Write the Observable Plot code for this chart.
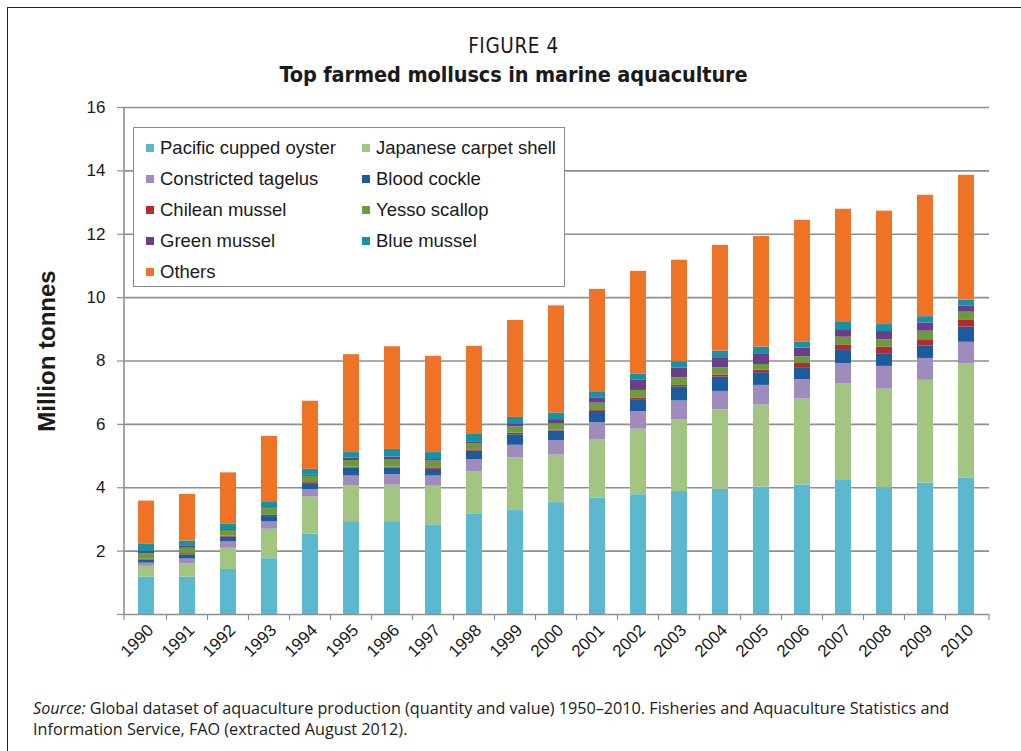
<!DOCTYPE html>
<html>
<head>
<meta charset="utf-8">
<script src="https://cdn.jsdelivr.net/npm/d3@7"></script>
<script src="https://cdn.jsdelivr.net/npm/@observablehq/plot@0.6"></script>
<style>
  html, body { margin: 0; padding: 0; background: #fff; }
  #wrap { position: relative; width: 1021px; height: 751px; overflow: hidden; font-family: "Liberation Sans", Arial, sans-serif; color: #1a1a1a; }
  #frame { position: absolute; left: 7px; top: 7px; width: 1100px; height: 900px; border-left: 1.5px solid #222; border-top: 1.5px solid #222; }
  #fig { position: absolute; top: 34px; left: 0; width: 1027px; text-align: center; font-family: "DejaVu Sans Condensed", "DejaVu Sans", sans-serif; font-size: 20.5px; letter-spacing: 0.6px; }
  #title { position: absolute; top: 62px; left: 0; width: 1027px; text-align: center; font-family: "DejaVu Sans Condensed", "DejaVu Sans", sans-serif; font-weight: bold; font-size: 21.5px; letter-spacing: -0.1px; }
  #chart { position: absolute; left: 0; top: 0; }
  #ylabel { position: absolute; left: 47px; top: 351px; transform: translate(-50%, -50%) rotate(-90deg); font-weight: bold; font-size: 24px; white-space: nowrap; }
  #legend { position: absolute; left: 133px; top: 127px; width: 432px; height: 160px; box-sizing: border-box; border: 1.5px solid #8a8a8a; background: #fff; }
  .item { position: absolute; font-size: 18.5px; white-space: nowrap; line-height: 20px; }
  .sw { position: absolute; width: 8px; height: 8px; left: 0; top: 6px; }
  .lab { position: absolute; left: 14px; top: 0; }
  #caption { position: absolute; left: 33px; top: 698px; width: 985px; font-family: "Open Sans", "Noto Sans", sans-serif; font-size: 16.2px; line-height: 21px; }
</style>
</head>
<body>
<div id="wrap">
  <div id="frame"></div>
  <div id="fig">FIGURE 4</div>
  <div id="title">Top farmed molluscs in marine aquaculture</div>
  <div id="chart"></div>
  <div id="ylabel">Million tonnes</div>
  <div id="legend"></div>
  <div id="caption"><i>Source:</i> Global dataset of aquaculture production (quantity and value) 1950–2010. Fisheries and Aquaculture Statistics and<br>Information Service, FAO (extracted August 2012).</div>
</div>
<script>
const years = ["1990","1991","1992","1993","1994","1995","1996","1997","1998","1999","2000","2001","2002","2003","2004","2005","2006","2007","2008","2009","2010"];

const seriesNames = ["Pacific cupped oyster","Japanese carpet shell","Constricted tagelus","Blood cockle","Chilean mussel","Yesso scallop","Green mussel","Blue mussel","Others"];
const seriesColors = ["#5bb8cf","#a2c581","#a08bbd","#1c5c9c","#b42a30","#6a9c3c","#6a3f8a","#1493a7","#ee7326"];

// million tonnes, per year 1990..2010
const pacificCuppedOyster = [1.18,1.18,1.42,1.76,2.54,2.93,2.93,2.83,3.16,3.28,3.53,3.67,3.78,3.88,3.95,4.02,4.09,4.23,4.00,4.15,4.31];
const japaneseCarpetShell = [0.34,0.42,0.67,0.93,1.17,1.14,1.15,1.22,1.35,1.66,1.50,1.85,2.07,2.27,2.51,2.59,2.71,3.05,3.11,3.24,3.60];
const constrictedTagelus  = [0.10,0.15,0.20,0.23,0.23,0.30,0.33,0.32,0.37,0.40,0.46,0.53,0.55,0.59,0.58,0.62,0.61,0.64,0.72,0.69,0.68];
const bloodCockle         = [0.10,0.13,0.15,0.17,0.19,0.25,0.21,0.21,0.27,0.33,0.30,0.36,0.38,0.44,0.45,0.40,0.38,0.44,0.40,0.40,0.48];
const chileanMussel       = [0.03,0.04,0.03,0.04,0.03,0.03,0.03,0.03,0.03,0.05,0.03,0.03,0.04,0.05,0.07,0.08,0.13,0.15,0.21,0.19,0.21];
const yessoScallop        = [0.17,0.17,0.18,0.21,0.20,0.21,0.24,0.23,0.20,0.20,0.19,0.23,0.25,0.24,0.22,0.18,0.21,0.24,0.23,0.27,0.26];
const greenMussel         = [0.07,0.06,0.03,0.03,0.03,0.08,0.08,0.05,0.07,0.10,0.14,0.17,0.32,0.31,0.30,0.34,0.28,0.24,0.26,0.26,0.20];
const blueMussel          = [0.24,0.17,0.18,0.19,0.19,0.17,0.24,0.22,0.23,0.20,0.21,0.19,0.19,0.20,0.23,0.21,0.18,0.25,0.22,0.20,0.18];
const others              = [1.35,1.47,1.61,2.06,2.15,3.09,3.24,3.04,2.78,3.06,3.38,3.23,3.25,3.20,3.34,3.49,3.85,3.55,3.58,3.83,3.94];

const yTicks = [0,2,4,6,8,10,12,14,16];

const seriesValues = [pacificCuppedOyster, japaneseCarpetShell, constrictedTagelus, bloodCockle, chileanMussel, yessoScallop, greenMussel, blueMussel, others];
const rows = [];
seriesNames.forEach((s, i) => years.forEach((yr, j) => rows.push({year: yr, series: s, value: seriesValues[i][j]})));

const chart = Plot.plot({
  width: 1021,
  height: 690,
  marginTop: 107,
  marginBottom: 76,
  marginLeft: 124,
  marginRight: 32,
  style: {background: "transparent", fontFamily: "'Liberation Sans', Arial, sans-serif", color: "#1a1a1a"},
  x: {domain: years, paddingInner: 0.6, paddingOuter: 0.31, label: null},
  y: {domain: [0, 16], label: null},
  color: {domain: seriesNames, range: seriesColors},
  marks: [
    Plot.ruleY(yTicks.filter(d => d > 0), {stroke: "#8f8f8f", strokeWidth: 1.6}),
    Plot.barY(rows, {x: "year", y: "value", fill: "series", order: seriesNames}),
    Plot.ruleY([0], {stroke: "#8f8f8f", strokeWidth: 1.6}),
    Plot.axisY({ticks: yTicks, tickSize: 7, tickPadding: 12, tickFormat: d => d === 0 ? "" : String(d), fontSize: 17, stroke: "#8f8f8f", strokeWidth: 1.2}),
    Plot.axisX({tickSize: 0, tickRotate: -45, tickPadding: 13, fontSize: 17, dx: 4})
  ]
});
document.getElementById("chart").appendChild(chart);

// axis line and category boundary ticks, positioned from the Plot scales
const xs = chart.scale("x"), ys = chart.scale("y");
const svg = d3.select(chart);
const y0 = ys.apply(0), yTop = ys.apply(16);
const left = xs.range[0], right = xs.range[1];
svg.append("line").attr("x1", left).attr("x2", left).attr("y1", yTop).attr("y2", y0)
  .attr("stroke", "#8f8f8f").attr("stroke-width", 1.6);
const half = (xs.step - xs.bandwidth) / 2;
const bounds = [left, ...years.slice(1).map(y => xs.apply(y) - half), right];
svg.append("g").selectAll("line").data(bounds).join("line")
  .attr("x1", d => d).attr("x2", d => d).attr("y1", y0).attr("y2", y0 + 6)
  .attr("stroke", "#8f8f8f").attr("stroke-width", 1.2);

// legend
const leg = d3.select("#legend");
const colX = [12, 228], rowY = [10, 41, 72, 103, 134];
seriesNames.forEach((s, i) => {
  const it = leg.append("div").attr("class", "item")
    .style("left", colX[i % 2] + "px").style("top", rowY[Math.floor(i / 2)] + "px");
  it.append("div").attr("class", "sw").style("background", seriesColors[i]);
  it.append("div").attr("class", "lab").text(s);
});
</script>
</body>
</html>
